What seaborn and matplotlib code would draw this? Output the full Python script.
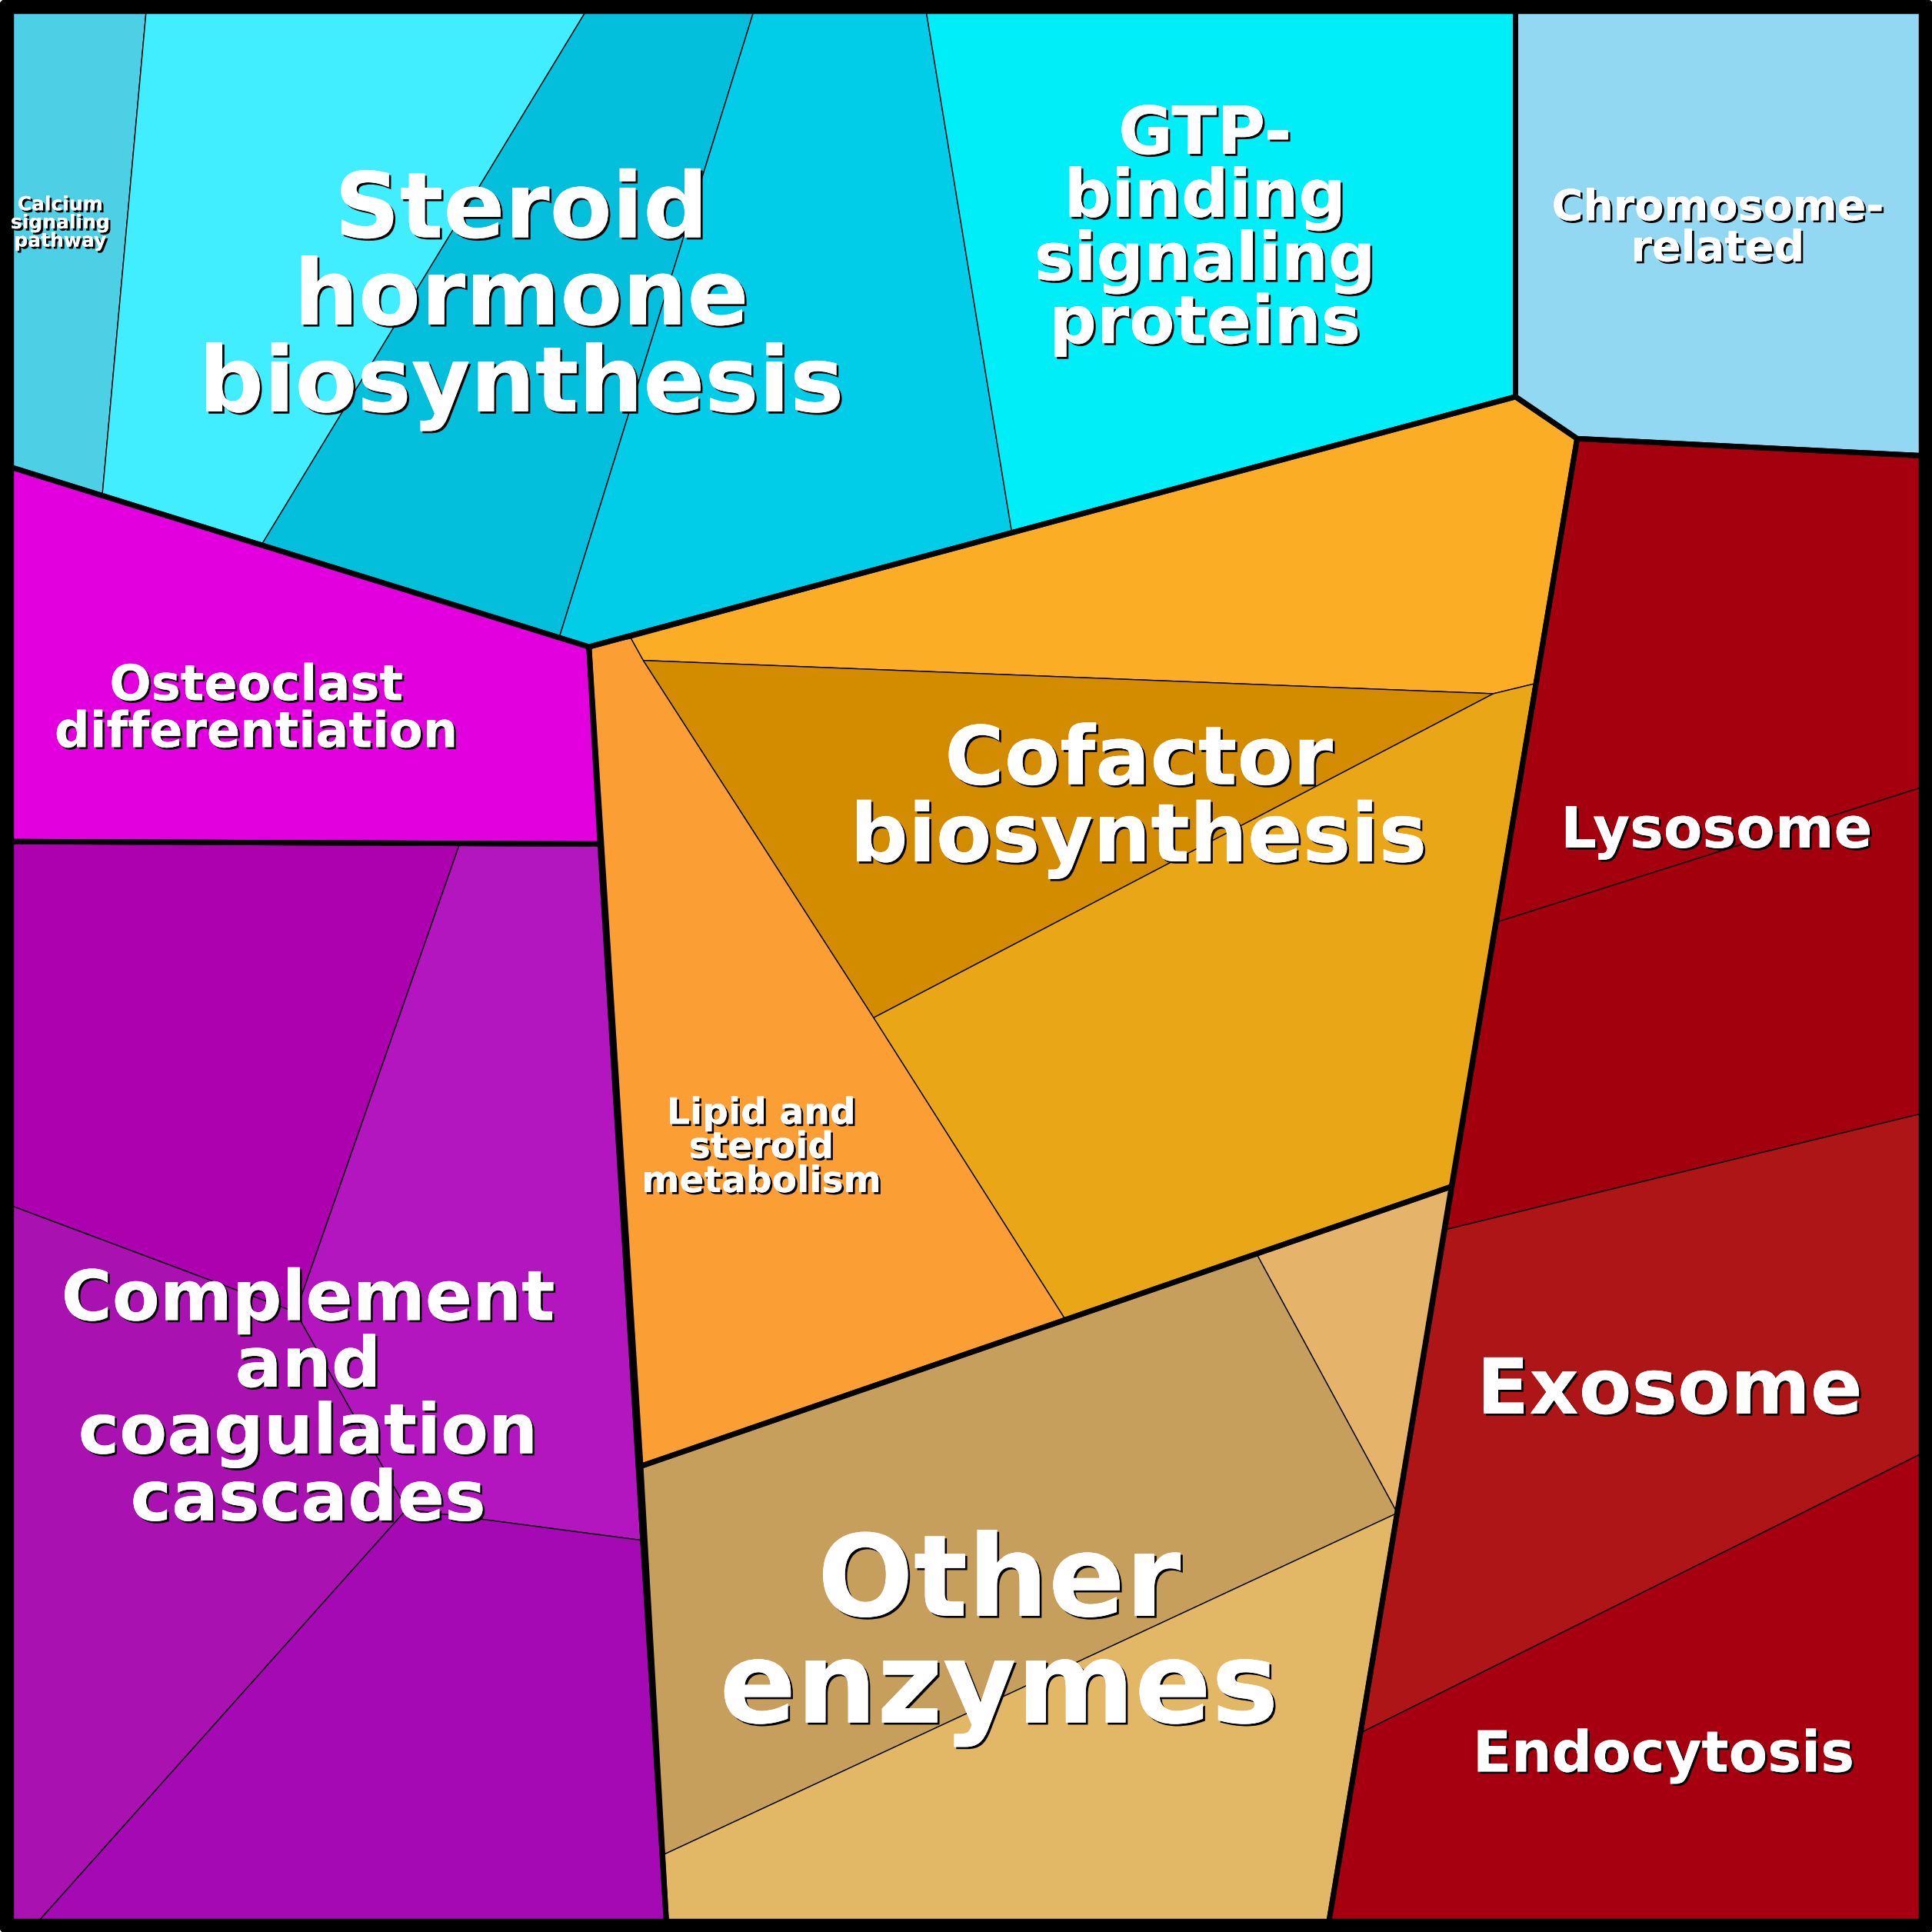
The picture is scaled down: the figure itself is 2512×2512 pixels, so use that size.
"""Voronoi treemap of functional categories, redrawn from the reference picture."""

import matplotlib

matplotlib.use("Agg")
import matplotlib.patheffects as pe
import seaborn as sns
from matplotlib import pyplot as plt

# cell outlines (x, y in a 1568-wide frame, y downwards)
group_names = ["Calcium/Steroid/GTP", "Chromosome", "Osteoclast", "Complement", "Cofactor/Lipid", "Other", "Red"]
group_outlines = [
    [(5, 5), (1230, 5), (1230, 322), (478, 525), (5, 378)],
    [(1230, 5), (1563, 5), (1563, 370), (1280, 356), (1230, 322)],
    [(5, 378), (478, 525), (487, 685), (5, 683)],
    [(5, 683), (487, 685), (541, 1563), (5, 1563)],
    [(478, 525), (1230, 322), (1280, 356), (1178, 963), (520, 1190)],
    [(520, 1190), (1178, 963), (1078, 1563), (541, 1563)],
    [(1280, 356), (1563, 370), (1563, 1563), (1078, 1563)],
]

cell_outlines = [
    [(5, 5), (119, 5), (83, 402), (5, 378)],
    [(119, 5), (478, 5), (213, 441), (83, 402)],
    [(478, 5), (613, 5), (454, 517), (213, 441)],
    [(613, 5), (751, 5), (821, 431), (478, 525), (454, 517)],
    [(751, 5), (1230, 5), (1230, 322), (821, 431)],
    [(1230, 5), (1563, 5), (1563, 370), (1280, 356), (1230, 322)],
    [(5, 378), (478, 525), (487, 685), (5, 683)],
    [(5, 683), (373, 685), (240, 1065), (5, 977)],
    [(373, 685), (487, 685), (520, 1250), (330, 1225), (240, 1065)],
    [(5, 977), (240, 1065), (330, 1225), (28, 1563), (5, 1563)],
    [(330, 1225), (520, 1250), (541, 1563), (28, 1563)],
    [(512, 518), (1230, 322), (1280, 356), (1245, 555), (1212, 563), (522, 536)],
    [(522, 536), (1212, 563), (709, 826)],
    [(1212, 563), (1245, 555), (1178, 963), (864, 1070), (709, 826)],
    [(478, 525), (512, 518), (522, 536), (709, 826), (864, 1070), (520, 1190)],
    [(1020, 1018), (1178, 963), (1134, 1228)],
    [(520, 1190), (1020, 1018), (1134, 1228), (539, 1505)],
    [(539, 1505), (1134, 1228), (1078, 1563), (541, 1563)],
    [(1280, 356), (1563, 370), (1563, 638), (1216, 748)],
    [(1216, 748), (1563, 638), (1563, 903), (1173, 998)],
    [(1173, 998), (1563, 903), (1563, 1178), (1105, 1406)],
    [(1105, 1406), (1563, 1178), (1563, 1563), (1078, 1563)],
]
cell_colors = [
    "#4dd0e6", "#40eeff", "#03bfdb", "#02cde8", "#00eef8", "#93d8f2", "#e200de",
    "#ad00af", "#b315be", "#a912b0", "#a509b3",
    "#fbad25", "#d38c00", "#e9a617", "#fb9f35",
    "#e6b36a", "#c59f5b", "#e2b866",
    "#a5000e", "#a2000c", "#ad1517", "#a60010",
]

labels = [
    "Calcium\nsignaling\npathway", "Steroid\nhormone\nbiosynthesis", "GTP-\nbinding\nsignaling\nproteins",
    "Chromosome-\nrelated", "Osteoclast\ndifferentiation", "Complement\nand\ncoagulation\ncascades",
    "Cofactor\nbiosynthesis", "Lipid and\nsteroid\nmetabolism", "Other\nenzymes",
    "Lysosome", "Exosome", "Endocytosis",
]
label_x = [49, 423, 978, 1394, 208, 250, 924, 618, 811, 1393, 1355, 1350]
label_y = [181, 243, 187, 186, 576, 1137, 650, 932, 1330, 675, 1130, 1425]
label_pt = [18, 85, 62, 40, 46, 65, 76, 34, 106, 53, 72, 53]

sns.set_theme(style="white")
plt.rcParams["font.family"] = ["DejaVu Sans"]

fig = plt.figure(figsize=(25.12, 25.12), dpi=100)
ax = fig.add_axes([0, 0, 1, 1])
ax.set_xlim(0, 1568)
ax.set_ylim(1568, 0)
ax.axis("off")

for poly, col in zip(cell_outlines, cell_colors):
    xs, ys = zip(*poly)
    ax.fill(xs, ys, color=col, ec="black", lw=1.0, joinstyle="miter")
for poly in group_outlines:
    xs, ys = zip(*(poly + poly[:1]))
    ax.plot(xs, ys, color="black", lw=5, solid_joinstyle="miter")
ax.plot([5, 1563, 1563, 5, 5], [5, 5, 1563, 1563, 5], color="black", lw=14)

shadow = [pe.withSimplePatchShadow(offset=(2, -2), shadow_rgbFace="black", alpha=1), pe.Normal()]
for txt, x, y, size in zip(labels, label_x, label_y, label_pt):
    ax.text(x, y, txt, ha="center", va="center", fontsize=size, fontweight="bold",
            color="white", linespacing=0.98, path_effects=shadow)

fig.savefig("out.png", dpi=100)
